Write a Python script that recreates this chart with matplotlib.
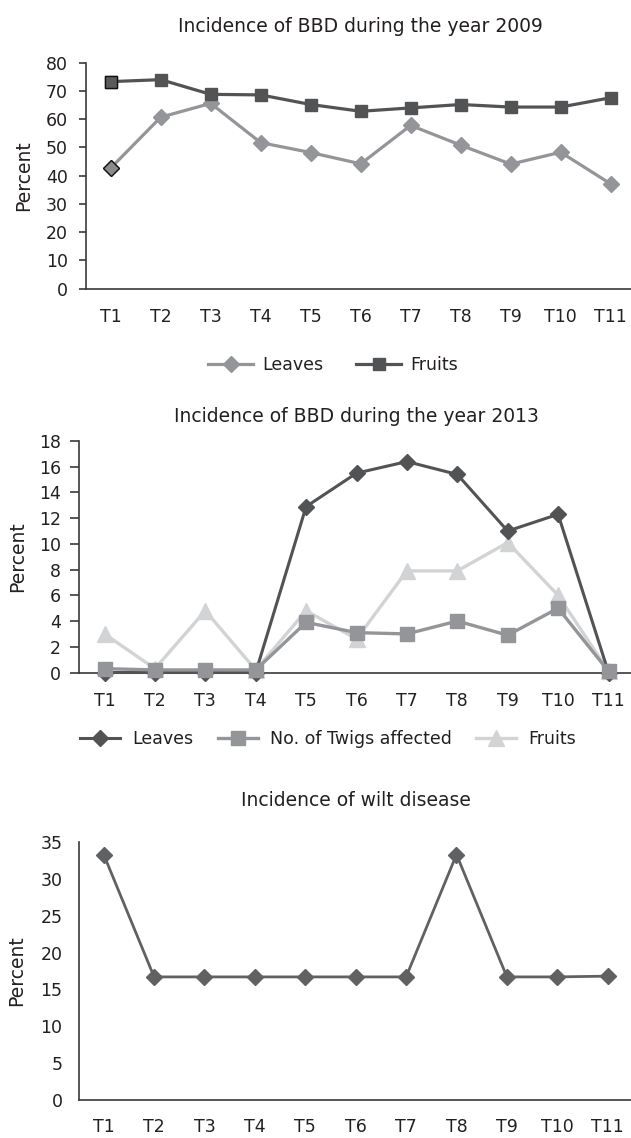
import matplotlib
matplotlib.use("Agg")
import matplotlib.pyplot as plt

plt.rcParams['font.family'] = ['DejaVu Sans']

# ---------------- data ----------------
categories = ["T1", "T2", "T3", "T4", "T5", "T6", "T7", "T8", "T9", "T10", "T11"]

title_2009 = "Incidence of BBD during the year 2009"
leaves_2009 = [42.7, 60.7, 65.6, 51.7, 48.2, 44.2, 57.8, 50.8, 44.1, 48.3, 37.1]
fruits_2009 = [73.3, 74.0, 68.8, 68.6, 65.2, 62.8, 64.0, 65.2, 64.3, 64.3, 67.6]
yticks_2009 = [0, 10, 20, 30, 40, 50, 60, 70, 80]

title_2013 = "Incidence of BBD during the year 2013"
leaves_2013 = [0.0, 0.0, 0.0, 0.0, 12.9, 15.5, 16.4, 15.4, 11.0, 12.3, 0.0]
twigs_2013 = [0.3, 0.2, 0.2, 0.2, 3.9, 3.1, 3.0, 4.0, 2.9, 5.0, 0.1]
fruits_2013 = [3.0, 0.3, 4.8, 0.2, 4.8, 2.6, 7.9, 7.9, 10.1, 6.0, 0.1]
yticks_2013 = [0, 2, 4, 6, 8, 10, 12, 14, 16, 18]

title_wilt = "Incidence of wilt disease"
wilt = [33.3, 16.7, 16.7, 16.7, 16.7, 16.7, 16.7, 33.3, 16.7, 16.7, 16.8]
yticks_wilt = [0, 5, 10, 15, 20, 25, 30, 35]

# ---------------- style ----------------
W, H = 631, 1138
TXT = "#231f20"
AX = "#3a3a3a"
C_DARK = "#525355"
C_MID = "#939598"
C_LIGHT = "#d2d3d5"
TICK_FS = 12.5
TITLE_FS = 13.5
LABEL_FS = 13.5

fig = plt.figure(figsize=(W / 100, H / 100), dpi=100)


def px_axes(left, top_px, bottom_px, n, step):
    return fig.add_axes([left / W, 1 - bottom_px / H, n * step / W, (bottom_px - top_px) / H])


def style_axes(ax, yticks, ytick_len, ypad, xpad, label_x):
    x = list(range(len(categories)))
    ax.set_xlim(-0.5, len(categories) - 0.5)
    ax.set_ylim(yticks[0], yticks[-1])
    ax.set_yticks(yticks)
    ax.set_xticks(x)
    ax.set_xticklabels(categories)
    for s in ("top", "right"):
        ax.spines[s].set_visible(False)
    for s in ("left", "bottom"):
        ax.spines[s].set_color(AX)
        ax.spines[s].set_linewidth(1.2)
    ax.tick_params(axis="y", length=ytick_len, width=1.2, color=AX, pad=ypad,
                   labelsize=TICK_FS, labelcolor=TXT)
    ax.tick_params(axis="x", length=0, pad=xpad, labelsize=TICK_FS, labelcolor=TXT)
    ax.set_ylabel("Percent", fontsize=LABEL_FS, color=TXT)
    ax.yaxis.set_label_coords(label_x, 0.5)
    ax.patch.set_alpha(0)


xs = list(range(len(categories)))

# ---------------- chart 1 (2009) ----------------
ax1 = px_axes(85.7, 62.7, 288.7, 11, 50.0)
style_axes(ax1, yticks_2009, 4.8, 8, 14, -0.096)
l1, = ax1.plot(xs, leaves_2009, color=C_MID, lw=2.3, marker="D", ms=8.5,
               mfc=C_MID, mec=C_MID, zorder=3, clip_on=False, label="Leaves")
f1, = ax1.plot(xs, fruits_2009, color=C_DARK, lw=2.3, marker="s", ms=8.5,
               mfc=C_DARK, mec=C_DARK, zorder=4, clip_on=False, label="Fruits")
ax1.plot(xs[:1], leaves_2009[:1], ls="none", marker="D", ms=8.5, mfc="#8a8b8d",
         mec="#111111", mew=1.0, zorder=5, clip_on=False)
ax1.plot(xs[:1], fruits_2009[:1], ls="none", marker="s", ms=8.5, mfc="#5a5b5d",
         mec="#111111", mew=1.0, zorder=5, clip_on=False)
fig.text(360 / W, 1 - 31.7 / H, title_2009, ha="center", va="baseline",
         fontsize=TITLE_FS, color=TXT)
fig.legend(handles=[l1, f1], loc="center", bbox_to_anchor=(333 / W, 1 - 365 / H),
           ncol=2, frameon=False, fontsize=TICK_FS, handlelength=2.6,
           handletextpad=0.5, columnspacing=1.9, labelcolor=TXT)

# ---------------- chart 2 (2013) ----------------
ax2 = px_axes(79.3, 441.0, 672.5, 11, 50.4)
style_axes(ax2, yticks_2013, 6.5, 6.5, 14, -0.095)
f2, = ax2.plot(xs, fruits_2013, color=C_LIGHT, lw=2.4, marker="^", ms=11,
               mfc=C_LIGHT, mec=C_LIGHT, zorder=2, clip_on=False, label="Fruits")
l2, = ax2.plot(xs, leaves_2013, color=C_DARK, lw=2.2, marker="D", ms=8.5,
               mfc=C_DARK, mec=C_DARK, zorder=3, clip_on=False, label="Leaves")
t2, = ax2.plot(xs, twigs_2013, color=C_MID, lw=2.4, marker="s", ms=10.5,
               mfc=C_MID, mec=C_MID, zorder=4, clip_on=False,
               label="No. of Twigs affected")
fig.text(356.5 / W, 1 - 421.7 / H, title_2013, ha="center", va="baseline",
         fontsize=TITLE_FS, color=TXT)
fig.legend(handles=[l2, t2, f2], loc="center", bbox_to_anchor=(328 / W, 1 - 739 / H),
           ncol=3, frameon=False, fontsize=TICK_FS, handlelength=2.3,
           handletextpad=0.7, columnspacing=1.4, labelcolor=TXT)

# ---------------- chart 3 (wilt) ----------------
ax3 = px_axes(78.5, 842.0, 1100.0, 11, 50.4)
style_axes(ax3, yticks_wilt, 0, 11.5, 13, -0.095)
ax3.plot(xs, wilt, color="#606163", lw=2.0, marker="D", ms=8.5,
         mfc="#606163", mec="#606163", zorder=3, clip_on=False)
fig.text(356 / W, 1 - 806 / H, title_wilt, ha="center", va="baseline",
         fontsize=TITLE_FS, color=TXT)

fig.savefig("out.png", dpi=100)
